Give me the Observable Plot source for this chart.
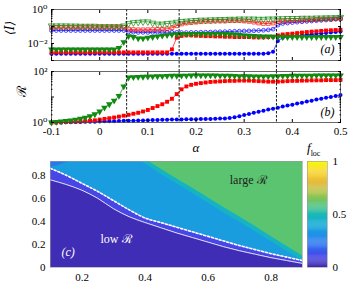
<!DOCTYPE html>
<html><head><meta charset="utf-8">
<script src="https://cdn.jsdelivr.net/npm/d3@7"></script>
<script src="https://cdn.jsdelivr.net/npm/@observablehq/plot@0.6"></script>
<style>
body{margin:0;background:#fff;}
#chart{position:relative;width:353px;height:292px;font-family:"Liberation Serif",serif;overflow:hidden;background:#fff;}
#chart svg{position:absolute;overflow:visible;background:transparent;}
#floc{position:absolute;left:307px;top:141px;font-size:13px;font-family:"Liberation Serif",serif;line-height:13px;}
#floc sub{font-size:8px;font-style:normal;}
</style></head><body><div id="chart"></div>
<script>
// ---------- data: panels (a) and (b), x = alpha ----------
const alpha = [-0.10,-0.09,-0.08,-0.07,-0.06,-0.05,-0.04,-0.03,-0.02,-0.01,0.00,0.01,0.02,0.03,0.04,0.05,0.06,0.07,0.08,0.09,0.10,0.11,0.12,0.13,0.14,0.15,0.16,0.17,0.18,0.19,0.20,0.21,0.22,0.23,0.24,0.25,0.26,0.27,0.28,0.29,0.30,0.31,0.32,0.33,0.34,0.35,0.36,0.37,0.38,0.39,0.40,0.41,0.42,0.43,0.44,0.45,0.46,0.47,0.48,0.49,0.50];

// (a) <I>, filled markers
const blueFilledA = [0.0025,0.0025,0.0025,0.0025,0.0025,0.0025,0.0025,0.0025,0.0025,0.0025,0.0025,0.0025,0.0025,0.0025,0.0025,0.0025,0.0025,0.0025,0.0025,0.0025,0.0025,0.0025,0.0025,0.0025,0.0025,0.0025,0.0025,0.0025,0.0025,0.0025,0.0025,0.0025,0.0025,0.0025,0.0025,0.0025,0.0025,0.0025,0.0025,0.0025,0.0025,0.0025,0.0025,0.0025,0.0025,0.0027,0.0033,0.014,0.022,0.025,0.027,0.029,0.031,0.033,0.035,0.037,0.039,0.041,0.044,0.047,0.05];
const redFilledA = [0.003,0.003,0.003,0.003,0.003,0.003,0.003,0.003,0.003,0.003,0.003,0.003,0.003,0.003,0.003,0.003,0.003,0.003,0.003,0.003,0.003,0.003,0.003,0.003,0.003,0.0045,0.022,0.028,0.03,0.03,0.029,0.028,0.027,0.027,0.026,0.026,0.025,0.025,0.024,0.024,0.024,0.024,0.023,0.023,0.023,0.024,0.025,0.03,0.034,0.036,0.038,0.041,0.044,0.047,0.05,0.052,0.055,0.058,0.06,0.062,0.064];
const greenFilledA = [0.0045,0.0045,0.0045,0.0045,0.0045,0.0045,0.0045,0.0045,0.0045,0.0045,0.0045,0.0045,0.0045,0.0045,0.0055,0.012,0.027,0.024,0.02,0.02,0.022,0.024,0.026,0.029,0.031,0.033,0.035,0.036,0.037,0.037,0.037,0.037,0.037,0.037,0.037,0.037,0.036,0.035,0.034,0.032,0.03,0.029,0.028,0.027,0.026,0.026,0.025,0.024,0.024,0.024,0.024,0.024,0.024,0.024,0.024,0.024,0.024,0.024,0.024,0.024,0.024];
// (a) <I>, open markers
const blueOpenA = [0.058,0.058,0.058,0.058,0.058,0.058,0.058,0.058,0.058,0.058,0.058,0.058,0.058,0.058,0.058,0.058,0.048,0.046,0.045,0.045,0.045,0.045,0.046,0.046,0.046,0.046,0.045,0.044,0.044,0.045,0.045,0.046,0.046,0.047,0.048,0.049,0.05,0.051,0.052,0.053,0.054,0.055,0.056,0.058,0.06,0.063,0.07,0.12,0.15,0.16,0.17,0.18,0.19,0.2,0.21,0.22,0.23,0.24,0.25,0.27,0.28];
const redOpenA = [0.09,0.09,0.09,0.09,0.09,0.09,0.09,0.09,0.09,0.09,0.09,0.09,0.09,0.09,0.09,0.09,0.07,0.066,0.064,0.064,0.065,0.066,0.068,0.07,0.073,0.085,0.11,0.14,0.16,0.17,0.18,0.19,0.2,0.2,0.21,0.21,0.21,0.22,0.22,0.22,0.21,0.2,0.18,0.16,0.15,0.15,0.16,0.19,0.21,0.22,0.23,0.23,0.24,0.24,0.25,0.26,0.27,0.28,0.28,0.29,0.3];
const greenOpenA = [0.11,0.11,0.11,0.11,0.108,0.108,0.105,0.105,0.105,0.105,0.1,0.1,0.1,0.1,0.1,0.11,0.15,0.17,0.18,0.19,0.19,0.16,0.14,0.14,0.15,0.16,0.18,0.2,0.21,0.22,0.23,0.24,0.24,0.25,0.25,0.26,0.26,0.27,0.27,0.28,0.28,0.28,0.28,0.27,0.27,0.28,0.28,0.29,0.29,0.3,0.3,0.3,0.31,0.31,0.31,0.32,0.32,0.33,0.33,0.34,0.35];

// (b) R
const blueB = [1.0,1.0,1.0,1.02,1.03,1.04,1.05,1.06,1.07,1.08,1.1,1.11,1.12,1.13,1.15,1.16,1.17,1.18,1.2,1.21,1.22,1.24,1.25,1.27,1.28,1.3,1.31,1.32,1.33,1.34,1.35,1.36,1.37,1.38,1.4,1.42,1.45,1.5,1.6,1.75,1.95,2.15,2.4,2.65,2.9,3.2,3.5,3.8,4.2,4.6,5.0,5.5,6.0,6.6,7.2,7.9,8.6,9.3,10,11,12];
const redB = [1.0,1.0,1.02,1.04,1.06,1.08,1.1,1.13,1.17,1.22,1.3,1.38,1.47,1.57,1.7,1.85,2.0,2.2,2.4,2.7,3.1,3.7,4.4,5.2,6.5,8.5,13,20,26,30,33,35,37,39,40,41,42,43,43,44,44,44,43,42,41,40,40,40,41,42,43,43,44,44,45,45,45,46,46,46,47];
const greenB = [1.0,1.05,1.1,1.15,1.2,1.3,1.4,1.55,1.75,2.1,2.7,3.8,5.2,7.2,11,26,58,60,61,62,63,64,65,66,67,68,68,69,69,70,70,70,70,70,70,69,69,68,67,66,65,65,64,64,64,64,65,66,67,67,68,68,69,69,69,70,70,70,70,70,70];

const transitions = [0.056, 0.165, 0.367];
const xTicks = [-0.1, 0, 0.1, 0.2, 0.3, 0.4, 0.5];
const yMajorA = [0.001, 0.01, 0.1, 1];
const yLabelA = [0.01, 1];
const yMinorA = [0.002,0.003,0.004,0.005,0.006,0.007,0.008,0.009,0.02,0.03,0.04,0.05,0.06,0.07,0.08,0.09,0.2,0.3,0.4,0.5,0.6,0.7,0.8,0.9];
const yMajorB = [1, 10, 100];
const yLabelB = [1, 100];
const yMinorB = [2,3,4,5,6,7,8,9,20,30,40,50,60,70,80,90];
const powLabels = {"0.01": "10⁻²", "1": "10⁰", "100": "10²"};

// ---------- data: panel (c), heat map f_loc(lambda, alpha) ----------
const lamGrid  = [0.10,0.15,0.20,0.25,0.30,0.35,0.40,0.45,0.50,0.55,0.60,0.65,0.70,0.75,0.80,0.85,0.90];
const thinLine = [0.76,0.72,0.67,0.60,0.51,0.44,0.39,0.345,0.30,0.26,0.22,0.18,0.145,0.115,0.085,0.06,0.035];
const dashLine = [0.86,0.80,0.73,0.66,0.58,0.50,0.43,0.39,0.35,0.31,0.27,0.23,0.19,0.155,0.12,0.09,0.06];
const cornerLam  = [0.10,0.12,0.14,0.16];
const cornerEdge = [0.87,0.88,0.90,0.92];
const cyanLam  = [0.35,0.40,0.45,0.50,0.55,0.60,0.65,0.70,0.75,0.80,0.85,0.90];
const cyanEdge = [0.99,0.90,0.81,0.73,0.645,0.56,0.475,0.395,0.31,0.225,0.14,0.06];
const greenLam = [0.40,0.45,0.50,0.55,0.60,0.65,0.70,0.75,0.80,0.85,0.90];
const greenEdge= [0.94,0.855,0.77,0.69,0.605,0.52,0.44,0.355,0.27,0.185,0.10];
const fLow = 0.02, fBand = 0.1, fCorner = 0.22, fMid = 0.35, fCyan = 0.46, fHigh = 0.6;
const alphaTop = 0.92;
const cTicksX = [0.2, 0.4, 0.6, 0.8];
const cTicksY = [0, 0.2, 0.4, 0.6, 0.8];
const cbarTicks = [0, 0.5, 1];
const cbarSteps = d3.range(0, 1, 0.01);

// parula-like colour map stops
const parula = ["#3e26a8","#4747e8","#2f6ff0","#2290e8","#0fa9d6","#1bb9b6","#5bc470","#a9c448","#e8ba3a","#f7d52a","#f9fb0e"];
const parulaInterp = d3.piecewise(d3.interpolateRgb, parula);

const FONT = "Liberation Serif, DejaVu Serif, serif";
const BLUE = "#0000ff", RED = "#ff0000", GREEN = "#108a10";

const triDown = {
  draw(ctx, size) {
    const s3 = Math.sqrt(3);
    const y = -Math.sqrt(size / (s3 * 3));
    ctx.moveTo(0, -2 * y);
    ctx.lineTo(-s3 * y, y);
    ctx.lineTo(s3 * y, y);
    ctx.closePath();
  }
};

function seriesMarks(vals, color, symbol, filled, r) {
  return [
    Plot.line(alpha, {x: d => d, y: (d, i) => vals[i], stroke: color, strokeWidth: 0.7}),
    Plot.dot(alpha, {x: d => d, y: (d, i) => vals[i], symbol,
      r, fill: filled ? color : "none", stroke: color, strokeWidth: filled ? 0 : 0.7})
  ];
}
function frameTicks(majors, minors, xt) {
  const none = () => "";
  return [
    Plot.axisY(majors, {anchor: "left", tickSize: -3, tickFormat: none, label: null}),
    Plot.axisY(majors, {anchor: "right", tickSize: -3, tickFormat: none, label: null}),
    Plot.axisY(minors, {anchor: "left", tickSize: -1.5, tickFormat: none, label: null}),
    Plot.axisY(minors, {anchor: "right", tickSize: -1.5, tickFormat: none, label: null}),
    Plot.axisX(xt, {anchor: "top", tickSize: -3, tickFormat: none, label: null}),
  ];
}

const chart = document.getElementById("chart");
function place(svg, left, top) {
  svg.style.left = left + "px";
  svg.style.top = top + "px";
  chart.appendChild(svg);
}

// ---------- panel (a) ----------
const plotA = Plot.plot({
  width: 353, height: 64,
  marginLeft: 51, marginRight: 13, marginTop: 9, marginBottom: 4,
  style: {fontFamily: FONT, fontSize: "11px", background: "transparent", color: "#000"},
  x: {domain: [-0.1, 0.5]},
  y: {type: "log", domain: [0.001, 1]},
  marks: [
    ...seriesMarks(blueOpenA, BLUE, "circle", false, 1.9),
    ...seriesMarks(redOpenA, RED, "square", false, 2.1),
    ...seriesMarks(greenOpenA, GREEN, triDown, false, 2.4),
    ...seriesMarks(blueFilledA, BLUE, "circle", true, 2),
    ...seriesMarks(redFilledA, RED, "square", true, 2.2),
    ...seriesMarks(greenFilledA, GREEN, triDown, true, 2.5),
    Plot.ruleX(transitions, {x: d => d, stroke: "#000", strokeWidth: 0.9, strokeDasharray: "2.5,1.5", insetBottom: -11}),
    Plot.frame({stroke: "#444", strokeWidth: 0.8}),
    ...frameTicks(yMajorA, yMinorA, xTicks),
    Plot.axisX(xTicks, {anchor: "bottom", tickSize: -3, tickFormat: () => "", label: null}),
    Plot.axisY(yLabelA, {anchor: "left", tickSize: 0, tickPadding: 4, tickFormat: d => powLabels[String(d)], label: null, fontSize: 11}),
    Plot.text(["⟨I⟩"], {frameAnchor: "left", dx: -41, rotate: -90, fontSize: 12, fontStyle: "italic", fontFamily: "DejaVu Serif"}),
    Plot.text(["(a)"], {frameAnchor: "bottom-right", dx: -6, dy: -8, fontSize: 12, fontStyle: "italic", textAnchor: "end"})
  ]
});
place(plotA, 0, 0);

// ---------- panel (b) ----------
const plotB = Plot.plot({
  width: 353, height: 92,
  marginLeft: 51, marginRight: 13, marginTop: 11, marginBottom: 30,
  style: {fontFamily: FONT, fontSize: "11px", background: "transparent", color: "#000"},
  x: {domain: [-0.1, 0.5]},
  y: {type: "log", domain: [1, 100]},
  marks: [
    ...seriesMarks(blueB, BLUE, "circle", true, 2),
    ...seriesMarks(redB, RED, "square", true, 2.2),
    ...seriesMarks(greenB, GREEN, triDown, true, 2.5),
    Plot.ruleX(transitions, {x: d => d, stroke: "#000", strokeWidth: 0.9, strokeDasharray: "2.5,1.5"}),
    Plot.frame({stroke: "#444", strokeWidth: 0.8}),
    ...frameTicks(yMajorB, yMinorB, xTicks),
    Plot.axisX(xTicks, {anchor: "bottom", tickSize: -3, tickFormat: () => "", label: null}),
    Plot.axisX(xTicks, {anchor: "bottom", tickSize: 0, tickPadding: 5, tickFormat: d => String(d), label: null, fontSize: 11}),
    Plot.axisY(yLabelB, {anchor: "left", tickSize: 0, tickPadding: 4, tickFormat: d => powLabels[String(d)], label: null, fontSize: 11}),
    Plot.text(["ℛ"], {frameAnchor: "left", dx: -30, rotate: -90, fontSize: 13, fontFamily: "DejaVu Serif"}),
    Plot.text(["α"], {frameAnchor: "bottom", dy: 25, lineAnchor: "middle", fontSize: 13, fontStyle: "italic"}),
    Plot.text(["(b)"], {frameAnchor: "bottom-right", dx: -6, dy: -7, fontSize: 12, fontStyle: "italic", textAnchor: "end"})
  ]
});
place(plotB, 0, 60);

// ---------- panel (c) ----------
const colorScale = {type: "linear", domain: [0, 1], interpolate: parulaInterp};
const plotC = Plot.plot({
  width: 353, height: 142,
  marginLeft: 50, marginRight: 51, marginTop: 11, marginBottom: 25,
  clip: true,
  style: {fontFamily: FONT, fontSize: "11px", background: "transparent", color: "#000"},
  x: {domain: [0.1, 0.9]},
  y: {domain: [0, alphaTop]},
  color: colorScale,
  marks: [
    Plot.areaY(lamGrid, {x: d => d, y1: (d, i) => dashLine[i], y2: alphaTop, fill: () => fMid}),
    Plot.areaY(cornerLam, {x: d => d, y1: (d, i) => cornerEdge[i], y2: alphaTop, fill: () => fCorner}),
    Plot.areaY(cyanLam, {x: d => d, y1: (d, i) => cyanEdge[i], y2: alphaTop, fill: () => fCyan}),
    Plot.areaY(greenLam, {x: d => d, y1: (d, i) => greenEdge[i], y2: alphaTop, fill: () => fHigh}),
    Plot.areaY(lamGrid, {x: d => d, y1: (d, i) => thinLine[i], y2: (d, i) => dashLine[i], fill: () => fBand}),
    Plot.areaY(lamGrid, {x: d => d, y1: 0, y2: (d, i) => thinLine[i], fill: () => fLow}),
    Plot.line(lamGrid, {x: d => d, y: (d, i) => thinLine[i], stroke: "#fff", strokeWidth: 0.8, curve: "monotone-x"}),
    Plot.line(lamGrid, {x: d => d, y: (d, i) => dashLine[i], stroke: "#fff", strokeWidth: 1.6, strokeDasharray: "2,2", curve: "monotone-x"}),
    Plot.frame({stroke: "#999", strokeWidth: 0.6}),
    Plot.axisX(cTicksX, {anchor: "bottom", tickSize: 0, tickPadding: 6, tickFormat: d => String(d), label: null, fontSize: 11}),
    Plot.axisY(cTicksY, {anchor: "left", tickSize: 0, tickPadding: 5, tickFormat: d => String(d), label: null, fontSize: 11}),
    Plot.text(["λ"], {frameAnchor: "bottom", dy: 15, fontSize: 13, fontStyle: "italic"}),
    Plot.text(["α"], {frameAnchor: "left", dx: -35, rotate: -90, fontSize: 13, fontStyle: "italic"}),
    Plot.text(["low ℛ"], {frameAnchor: "bottom-left", dx: 50, dy: -25, fill: "#fff", fontSize: 12}),
    Plot.text(["large ℛ"], {frameAnchor: "top-right", dx: -36, dy: 14, fill: "#222", fontSize: 12}),
    Plot.text(["(c)"], {frameAnchor: "bottom-left", dx: 11, dy: -12, fill: "#fff", fontSize: 12, fontStyle: "italic"})
  ]
});
place(plotC, 0, 150);

// ---------- colour bar ----------
const plotBar = Plot.plot({
  width: 53, height: 142,
  marginLeft: 7, marginRight: 26, marginTop: 11, marginBottom: 25,
  style: {fontFamily: FONT, fontSize: "11px", background: "transparent", color: "#000"},
  x: {domain: [0, 1], axis: null},
  y: {domain: [0, 1]},
  color: colorScale,
  marks: [
    Plot.rect(cbarSteps, {x1: 0, x2: 1, y1: d => d, y2: d => Math.min(1, d + 0.012), fill: d => d + 0.005}),
    Plot.frame({stroke: "#999", strokeWidth: 0.6}),
    Plot.axisY(cbarTicks, {anchor: "right", tickSize: 0, tickPadding: 5, tickFormat: d => String(d), label: null, fontSize: 11})
  ]
});
place(plotBar, 300, 150);

const fl = document.createElement("div");
fl.id = "floc";
fl.innerHTML = "<i>f</i><sub>loc</sub>";
chart.appendChild(fl);
</script></body></html>
